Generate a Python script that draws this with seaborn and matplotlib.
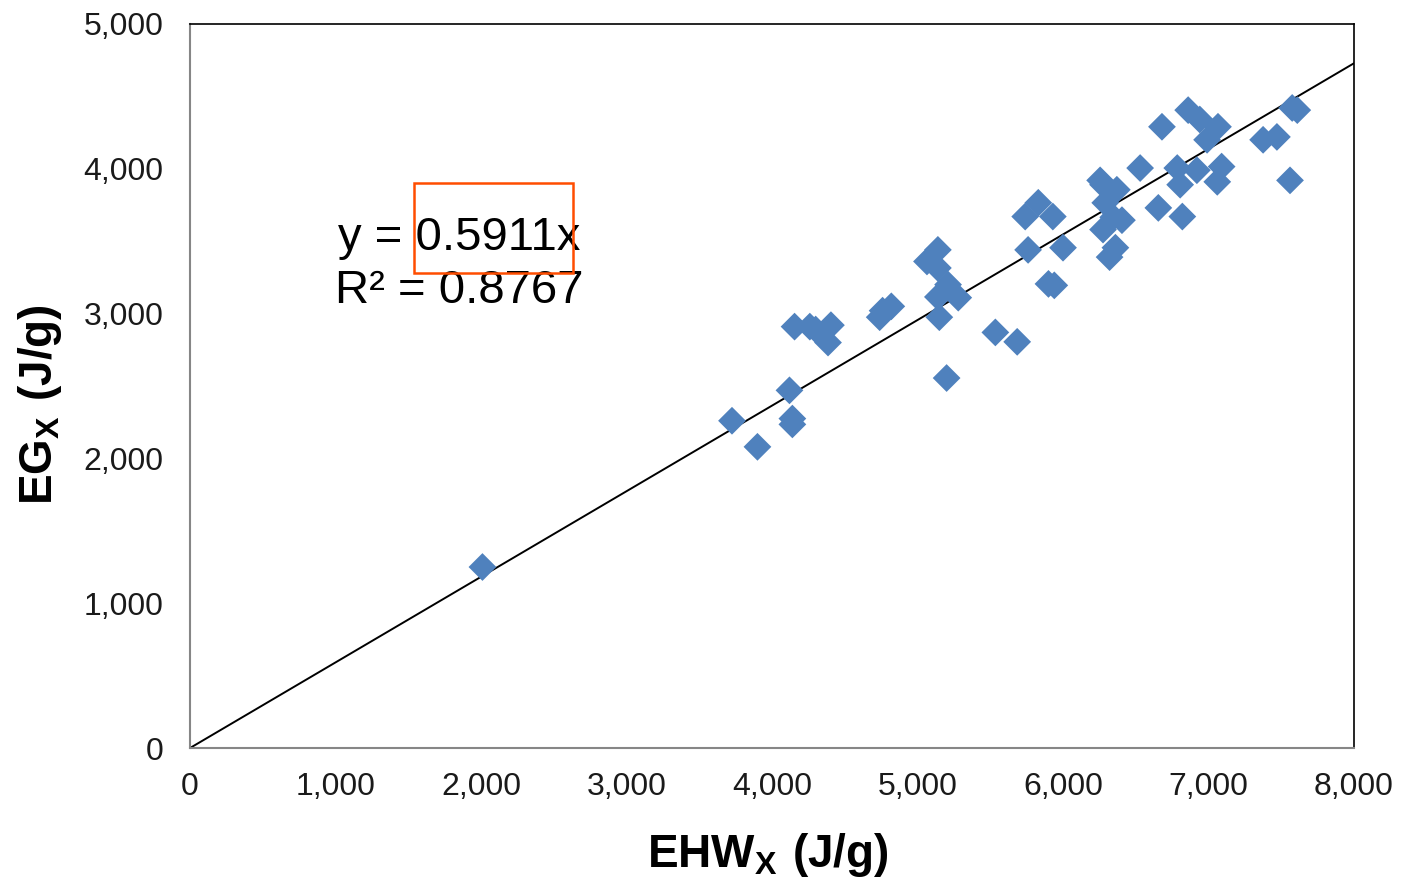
import matplotlib as mpl
import matplotlib.pyplot as plt
from matplotlib.patches import Rectangle
from matplotlib.ticker import FuncFormatter
import numpy as np
import pandas as pd
import seaborn as sns

# EHWx (J/g) and EGx (J/g)
ehw = [2010, 3725, 3900, 4120, 4140, 4140, 4155, 4260, 4300, 4405, 4385,
       4740, 4760, 4820, 5065, 5140, 5140, 5140, 5150, 5210, 5280, 5200,
       5535, 5685, 5740, 5830, 5930, 5760, 6000, 5900, 5940, 6255, 6275,
       6370, 6290, 6345, 6405, 6275, 6360, 6320, 6530, 6655, 6820, 6805,
       6785, 6920, 6680, 6860, 6940, 7065, 6990, 7090, 7060, 7375, 7470,
       7575, 7610, 7560]
eg = [1250, 2260, 2080, 2470, 2275, 2235, 2910, 2910, 2890, 2920, 2800,
      2975, 3020, 3050, 3360, 3440, 3315, 3115, 2975, 3200, 3110, 2555,
      2870, 2805, 3670, 3765, 3670, 3440, 3455, 3205, 3195, 3920, 3890,
      3855, 3765, 3665, 3645, 3580, 3455, 3390, 4005, 3730, 3670, 3890,
      4005, 3990, 4290, 4405, 4340, 4290, 4200, 4015, 3910, 4200, 4220,
      4420, 4405, 3920]
slope = 0.5911
r2 = 0.8767
x_ticks = [0, 1000, 2000, 3000, 4000, 5000, 6000, 7000, 8000]
y_ticks = [0, 1000, 2000, 3000, 4000, 5000]

df = pd.DataFrame({'EHW': ehw, 'EG': eg})

sns.set_style('white')
plt.rcParams['font.family'] = ['Liberation Sans', 'DejaVu Sans']
plt.rcParams['mathtext.fontset'] = 'custom'
plt.rcParams['mathtext.bf'] = 'Liberation Sans:bold'
plt.rcParams['mathtext.rm'] = 'Liberation Sans'

fig = plt.figure(figsize=(14.03, 8.84), dpi=100)
ax = fig.add_axes([0.1354, 0.1538, 0.8297, 0.8191])

sns.scatterplot(data=df, x='EHW', y='EG', marker='D', s=200,
                color='#4f81bd', edgecolor='none', linewidth=0, ax=ax, zorder=3)

# trend line through origin
lx = np.array([0, x_ticks[-1]])
ax.plot(lx, slope * lx, color='black', linewidth=1.4, zorder=2)

ax.set_xlim(0, 8000)
ax.set_ylim(0, 5000)
ax.set_xticks(x_ticks)
ax.set_yticks(y_ticks)
fmt = FuncFormatter(lambda v, p: f'{int(v):,}')
ax.xaxis.set_major_formatter(fmt)
ax.yaxis.set_major_formatter(fmt)
ax.tick_params(axis='both', direction='out', length=7, width=1.2,
               color='#868686', labelsize=23, labelcolor='#1a1a1a')
ax.tick_params(axis='x', pad=10)
ax.tick_params(axis='y', pad=12)

for side in ['left', 'bottom']:
    ax.spines[side].set_color('#868686')
    ax.spines[side].set_linewidth(1.5)
for side in ['top', 'right']:
    ax.spines[side].set_color('black')
    ax.spines[side].set_linewidth(1.2)

ax.set_xlabel(r'$\mathbf{EHW_X\ (J/g)}$', fontsize=33, color='black', va='center')
ax.set_ylabel(r'$\mathbf{EG_X\ (J/g)}$', fontsize=33, color='black', va='center')
ax.xaxis.set_label_coords(0.496, -0.148)
ax.yaxis.set_label_coords(-0.129, 0.475)

ax.text(1020, 3520, f'y = {slope}x', fontsize=34, color='black', ha='left', va='center')
ax.text(1000, 3155, f'R² = {r2}', fontsize=34, color='black', ha='left', va='center')
ax.add_patch(Rectangle((1540, 3280), 1090, 620, fill=False,
                       edgecolor='#ff4d00', linewidth=1.8, zorder=4))

plt.savefig('out.png', dpi=100)
